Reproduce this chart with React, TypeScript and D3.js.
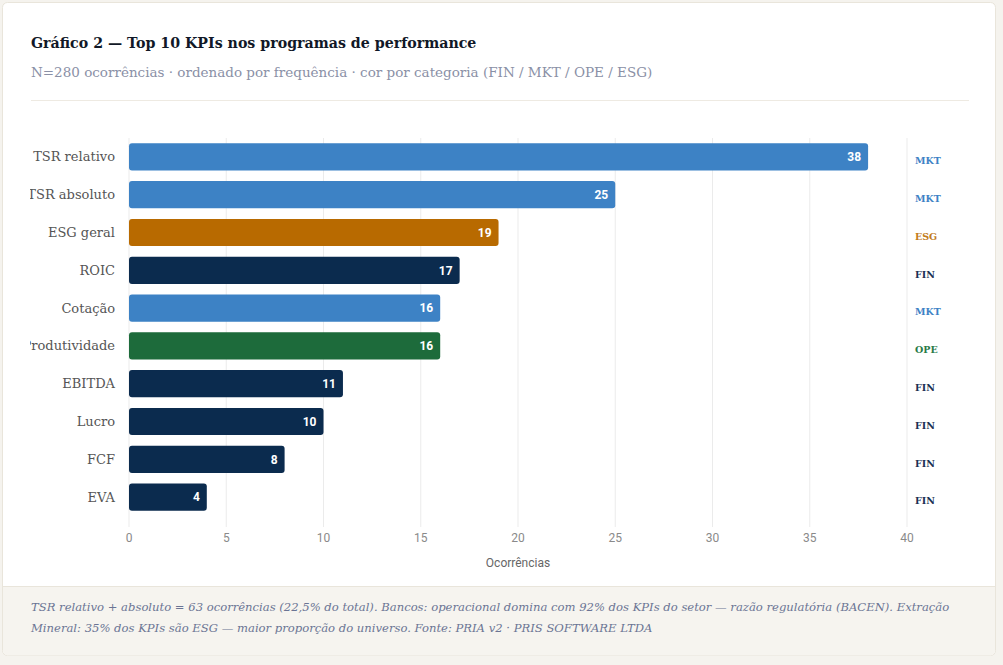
import React from "react";
import * as d3 from "d3";

const kpis = ["TSR relativo", "TSR absoluto", "ESG geral", "ROIC", "Cotação", "Produtividade", "EBITDA", "Lucro", "FCF", "EVA"];
const counts = [38, 25, 19, 17, 16, 16, 11, 10, 8, 4];
const categories = ["MKT", "MKT", "ESG", "FIN", "MKT", "OPE", "FIN", "FIN", "FIN", "FIN"];
const xTicks = [0, 5, 10, 15, 20, 25, 30, 35, 40];

const barColor: Record<string, string> = { MKT: "#3d82c5", ESG: "#b86a00", FIN: "#0b2b4e", OPE: "#1d6b3b" };
const tagColor: Record<string, string> = { MKT: "#3d82c5", ESG: "#c27c1c", FIN: "#1b3153", OPE: "#2a7a47" };

const W = 1003, H = 665;
const serif = "'DejaVu Serif', serif";
const sans = "Roboto, 'Liberation Sans', sans-serif";

export default function App() {
  const x = d3.scaleLinear().domain([0, 40]).range([129, 907]);
  const y = d3.scaleBand<string>().domain(kpis).range([138, 516]).paddingInner(0.28).paddingOuter(0.14);
  const bw = y.bandwidth();
  return (
    <svg width={W} height={H} style={{ position: "absolute", left: 0, top: 0, background: "#f5f3ee" }}>
      <defs>
        <clipPath id="lab">
          <rect x={30} y={120} width={100} height={420} />
        </clipPath>
      </defs>
      <rect x={2.5} y={2.5} width={993} height={653} rx={5} fill="#ffffff" stroke="#e9e5db" />
      <path d="M3,586.5 H995 V650.5 a5,5 0 0 1 -5,5 H8 a5,5 0 0 1 -5,-5 Z" fill="#f6f4ef" />
      <line x1={3} x2={995} y1={586.5} y2={586.5} stroke="#e9e5db" />
      <text x={31} y={48} fontFamily={serif} fontWeight={700} fontSize={14.2} fill="#111827">
        Gráfico 2 — Top 10 KPIs nos programas de performance
      </text>
      <text x={31} y={77} fontFamily={serif} fontSize={13.5} fill="#8a90a6">
        N=280 ocorrências · ordenado por frequência · cor por categoria (FIN / MKT / OPE / ESG)
      </text>
      <line x1={31} x2={969} y1={100.5} y2={100.5} stroke="#eeeae2" />

      {xTicks.map((t) => (
        <g key={t}>
          <line x1={x(t)} x2={x(t)} y1={138} y2={527} stroke="#ebebeb" />
          <text x={x(t)} y={542} textAnchor="middle" fontFamily={sans} fontSize={12} fill="#8a8a8a">{t}</text>
        </g>
      ))}
      <text x={518} y={567} textAnchor="middle" fontFamily={sans} fontSize={12} fill="#666">Ocorrências</text>

      <g clipPath="url(#lab)">
        {kpis.map((k) => (
          <text key={k} x={115} y={(y(k) as number) + bw / 2} dy="0.35em" textAnchor="end" fontFamily={serif} fontSize={13} fill="#555">{k}</text>
        ))}
      </g>

      {kpis.map((k, i) => {
        const y0 = y(k) as number;
        return (
          <g key={k}>
            <rect x={x(0)} y={y0} width={x(counts[i]) - x(0)} height={bw} rx={3} fill={barColor[categories[i]]} />
            <text x={x(counts[i]) - 7} y={y0 + bw / 2} dy="0.36em" textAnchor="end" fontFamily={sans} fontWeight={700} fontSize={12} fill="#ffffff">{counts[i]}</text>
            <text x={915} y={y0 + bw / 2 + 4} dy="0.35em" fontFamily={serif} fontWeight={700} fontSize={9.5} fill={tagColor[categories[i]]}>{categories[i]}</text>
          </g>
        );
      })}

      <text fontFamily={serif} fontStyle="italic" fontSize={11.6} fill="#6b7494">
        <tspan x={31} y={611}>TSR relativo + absoluto = 63 ocorrências (22,5% do total). Bancos: operacional domina com 92% dos KPIs do setor — razão regulatória (BACEN). Extração</tspan>
        <tspan x={31} y={632}>Mineral: 35% dos KPIs são ESG — maior proporção do universo. Fonte: PRIA v2 · PRIS SOFTWARE LTDA</tspan>
      </text>
    </svg>
  );
}
